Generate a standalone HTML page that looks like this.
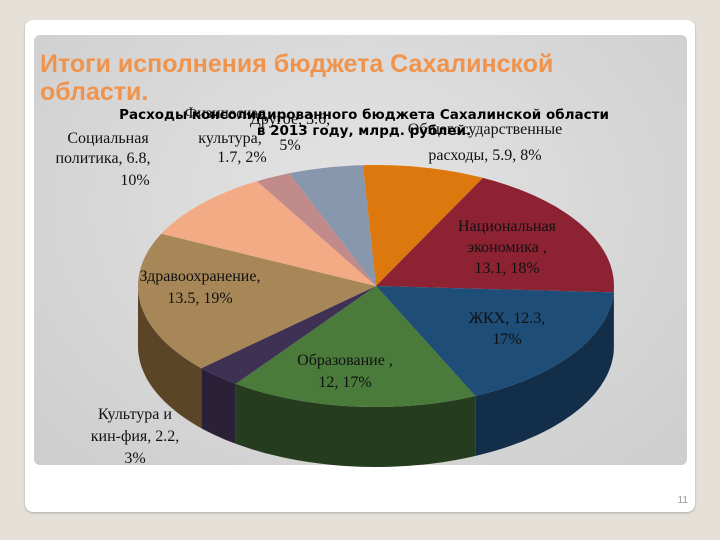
<!DOCTYPE html>
<html><head><meta charset="utf-8"><style>
body{margin:0;width:720px;height:540px;background:#e5e0d7;overflow:hidden;position:relative;font-family:"Liberation Serif",serif}
.card{position:absolute;left:25px;top:20px;width:670px;height:492px;background:#fff;border-radius:8px;box-shadow:0 1px 2px #aaa}
.panel{position:absolute;left:34px;top:35px;width:653px;height:430px;background:radial-gradient(ellipse at 50% 40%,#e4e4e4,#cdcdcd);border-radius:6px}
</style></head><body>
<div class="card"></div>
<div class="panel"></div>
<svg width="720" height="540" style="position:absolute;left:0;top:0">
<g id="pie"></g>
<text x="40" y="72" font-family="Liberation Sans,sans-serif" font-weight="bold" font-size="25" fill="#f0934c">Итоги исполнения бюджета Сахалинской</text>
<text x="40" y="100" font-family="Liberation Sans,sans-serif" font-weight="bold" font-size="25" fill="#f0934c">области.</text>
<g font-size="16" fill="#111" id="labels"></g>
<text x="364" y="119" text-anchor="middle" font-family="DejaVu Sans,sans-serif" font-weight="bold" font-size="13.5">Расходы консолидированного бюджета Сахалинской области</text>
<text x="364" y="135" text-anchor="middle" font-family="DejaVu Sans,sans-serif" font-weight="bold" font-size="13.5">в 2013 году, млрд. рублей.</text>
<text x="688" y="503" text-anchor="end" font-family="Liberation Sans,sans-serif" font-size="10" fill="#999">11</text>
</svg>
<script>
const categories=["Общегосударственные расходы","Национальная экономика","ЖКХ","Образование","Культура и кин-фия","Здравоохранение","Социальная политика","Физическая культура","Другое"];
const values=[5.9,13.1,12.3,12,2.2,13.5,6.8,1.7,3.6];
const percents=["8%","18%","17%","17%","3%","19%","10%","2%","5%"];
const topColors=["#dd780e","#8c2232","#1e4d77","#4a7b3b","#3f3153","#a78757","#f3ab86","#c18b8b","#8697ae"];
const sideColors=["#9a530a","#5e1622","#132e48","#263c1e","#2a2038","#5a4526","#a8735a","#8a6060","#5a6677"];
const labelLines=[["Общегосударственные","расходы, 5.9, 8%"],["Национальная","экономика ,","13.1, 18%"],["ЖКХ, 12.3,","17%"],["Образование ,","12, 17%"],["Культура и","кин-фия, 2.2,","3%"],["Здравоохранение,","13.5, 19%"],["Социальная","политика, 6.8,","10%"],["Физическая","культура,","1.7, 2%"],["Другое, 3.6,","5%"]];
const labelXY=[[[485,134],[485,160]],[[507,231],[507,252],[507,273]],[[507,323],[507,344]],[[345,365],[345,387]],[[135,419],[135,441],[135,463]],[[200,281],[200,303]],[[108,143],[103,163],[135,185]],[[225,118],[230,143],[242,162]],[[290,124],[290,150]]];
const cx=376,cy=286,rx=238,ry=121,depth=60,startAngle=-0.055;
const total=values.reduce((a,b)=>a+b,0);
const NS="http://www.w3.org/2000/svg";
const g=document.getElementById('pie');
function pt(a,dy){return [cx+rx*Math.sin(a),cy+dy-ry*Math.cos(a)];}
function arc(a1,a2,dy){let s="";const n=Math.max(2,Math.ceil((a2-a1)/0.03));for(let i=0;i<=n;i++){const p=pt(a1+(a2-a1)*i/n,dy);s+=(i?"L":"")+p[0].toFixed(1)+","+p[1].toFixed(1);}return s;}
let angs=[],acc=0;
values.forEach(v=>{const a1=startAngle+acc/total*2*Math.PI;acc+=v;angs.push([a1,startAngle+acc/total*2*Math.PI]);});
angs.forEach((r,i)=>{const s=Math.max(r[0],Math.PI/2),e=Math.min(r[1],3*Math.PI/2);if(e<=s)return;
 const p=document.createElementNS(NS,'path');
 const back=arc(s,e,depth).split("L").reverse().join("L");
 p.setAttribute('d',"M"+arc(s,e,0)+"L"+back+"Z");
 p.setAttribute('fill',sideColors[i]);
 
 
 g.appendChild(p);});
angs.forEach((r,i)=>{const p=document.createElementNS(NS,'path');
 p.setAttribute('d',"M"+cx+","+cy+"L"+arc(r[0],r[1],0)+"Z");
 p.setAttribute('fill',topColors[i]);
 
 
 g.appendChild(p);});
const lg=document.getElementById('labels');
labelLines.forEach((ls,i)=>{const t=document.createElementNS(NS,'text');
 t.setAttribute('text-anchor','middle');
 
 
 ls.forEach((l,j)=>{const s=document.createElementNS(NS,'tspan');s.setAttribute('x',labelXY[i][j][0]);s.setAttribute('y',labelXY[i][j][1]);s.textContent=l;t.appendChild(s);});
 lg.appendChild(t);});
</script>
</body></html>
